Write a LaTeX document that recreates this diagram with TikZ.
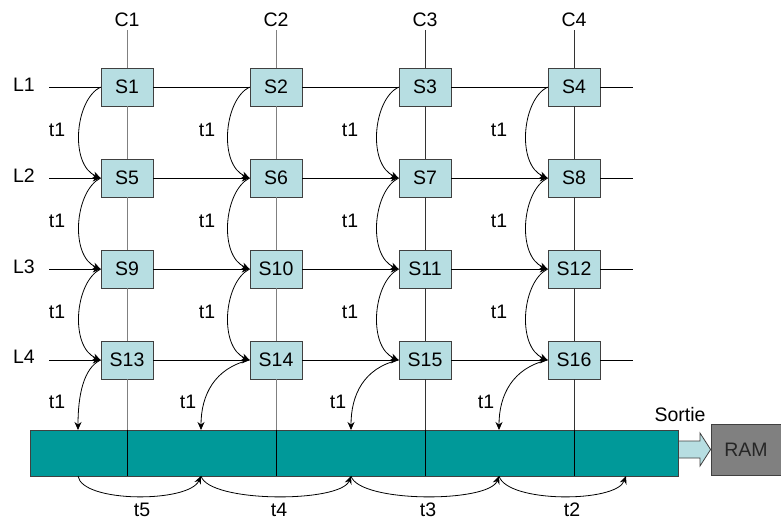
\documentclass[tikz,border=0pt]{standalone}
\usepackage{fontspec}
\setmainfont{Liberation Sans}
\usetikzlibrary{arrows.meta}
\definecolor{boxfill}{RGB}{183,222,226}
\definecolor{barfill}{RGB}{0,153,153}
\definecolor{ramfill}{RGB}{128,128,128}
\definecolor{edge}{RGB}{64,64,64}
\begin{document}
\begin{tikzpicture}[x=1pt,y=-1pt,
  cell/.style={draw=edge, fill=boxfill, minimum width=52pt, minimum height=38pt, inner sep=0pt, font=\fontsize{19.5}{19.5}\selectfont, line width=0.8pt},
  lbl/.style={font=\fontsize{19.5}{19.5}\selectfont, inner sep=0pt},
  arr/.style={-{Stealth[length=8pt,width=7pt]}, line width=0.8pt},
  ln/.style={line width=0.8pt},
  coll/.style={line width=0.8pt, draw=gray},
  cold/.style={line width=0.8pt, draw=black!80},
]
\useasboundingbox (0,0) rectangle (781,523);

% cells
\foreach \r/\y in {0/87,1/178,2/269,3/360}{
  \foreach \c/\x in {1/127,2/276,3/425,4/574}{
    \pgfmathtruncatemacro\n{\r*4+\c}
    \node[cell] (S\n) at (\x,\y) {S\n};
  }
}

% column labels and row labels
\foreach \c/\x in {1/127,2/276,3/425,4/574}{
  \node[lbl] (C\c) at (\x,19.5) {C\c};
  \coordinate (top\c) at (\x,30);
}
\foreach \r/\y in {1/85,2/176,3/267,4/357}{
  \node[lbl] (L\r) at (24,\y) {L\r};
}
\foreach \r/\y in {1/87,2/178,3/269,4/360}{
  \coordinate (Ls\r) at (49,\y);
  \coordinate (Le\r) at (633,\y);
}

% bar
\node[draw=edge, fill=barfill, minimum width=648pt, minimum height=46pt, inner sep=0pt, line width=0.8pt] (bar) at (354,453) {};

% column lines
\foreach \c/\st in {1/coll,2/coll,3/cold,4/cold}{
  \pgfmathtruncatemacro\a{\c}
  \pgfmathtruncatemacro\b{\c+4}
  \pgfmathtruncatemacro\d{\c+8}
  \pgfmathtruncatemacro\e{\c+12}
  \draw[\st] (top\c) -- (S\a.north);
  \draw[\st] (S\a.south) -- (S\b.north);
  \draw[\st] (S\b.south) -- (S\d.north);
  \draw[\st] (S\d.south) -- (S\e.north);
  \draw[\st] (S\e.south) -- (S\e |- bar.north);
  \draw[ln, black] (S\e |- bar.north) -- (S\e |- bar.south);
}

% row 1 lines (no arrows)
\draw[ln] (Ls1) -- (S1.west);
\draw[ln] (S1.east) -- (S2.west);
\draw[ln] (S2.east) -- (S3.west);
\draw[ln] (S3.east) -- (S4.west);
\draw[ln] (S4.east) -- (Le1);

% rows 2-4 with arrows
\foreach \r in {2,3,4}{
  \pgfmathtruncatemacro\a{(\r-1)*4+1}
  \pgfmathtruncatemacro\b{\a+1}
  \pgfmathtruncatemacro\cc{\a+2}
  \pgfmathtruncatemacro\d{\a+3}
  \draw[arr] (Ls\r) -- (S\a.west);
  \draw[arr] (S\a.east) -- (S\b.west);
  \draw[arr] (S\b.east) -- (S\cc.west);
  \draw[arr] (S\cc.east) -- (S\d.west);
  \draw[ln] (S\d.east) -- (Le\r);
}

% vertical t1 curves between rows
\foreach \n in {1,...,12}{
  \pgfmathtruncatemacro\m{\n+4}
  \draw[arr] (S\n.west) .. controls +(-26,13) and +(-31,-13) .. (S\m.west);
}

% t1 labels between rows
\foreach \x in {57,207,350,499}{
  \foreach \y in {130,221,312}{
    \node[lbl] at (\x,\y) {t1};
  }
}

% bar entry points
\coordinate (in1) at (78,430);
\coordinate (in2) at (201,430);
\coordinate (in3) at (351,430);
\coordinate (in4) at (499,430);
\draw[arr] (S13.west) .. controls +(-17,8) and +(0,-35) .. (in1);
\draw[arr] (S14.west) .. controls +(-35,8) and +(0,-35) .. (in2);
\draw[arr] (S15.west) .. controls +(-35,8) and +(0,-35) .. (in3);
\draw[arr] (S16.west) .. controls +(-35,8) and +(0,-35) .. (in4);
\node[lbl] (tb1) at (57,402) {t1};
\node[lbl] (tb2) at (188,402) {t1};
\node[lbl] (tb3) at (338,402) {t1};
\node[lbl] (tb4) at (486,402) {t1};

% shift arcs under the bar
\coordinate (q0) at (78,476);
\coordinate (q1) at (201,476);
\coordinate (q2) at (351,476);
\coordinate (q3) at (499,476);
\coordinate (q4) at (626,476);
\draw[arr] (q0) .. controls +(4,27) and +(-12,27) .. (q1);
\draw[arr] (q1) .. controls +(8,27) and +(-10,27) .. (q2);
\draw[arr] (q2) .. controls +(8,27) and +(-10,27) .. (q3);
\draw[arr] (q3) .. controls +(8,27) and +(-10,27) .. (q4);
\node[lbl] (t5) at (142,510) {t5};
\node[lbl] (t4) at (279,510) {t4};
\node[lbl] (t3) at (428,510) {t3};
\node[lbl] (t2) at (572,510) {t2};

% RAM and output arrow
\node[draw=edge, fill=ramfill, minimum width=70pt, minimum height=51pt, inner sep=0pt, line width=0.8pt, font=\fontsize{19.5}{19.5}\selectfont, text=black!85] (ram) at (746,449.5) {RAM};
\node[lbl] (sortie) at (680,415) {Sortie};
\draw[draw=edge, fill=boxfill, line width=0.8pt] (bar.east |- 0,441) -- (700,441) -- (700,433) -- (ram.west) -- (700,466) -- (700,458) -- (bar.east |- 0,458) -- cycle;
\end{tikzpicture}
\end{document}
